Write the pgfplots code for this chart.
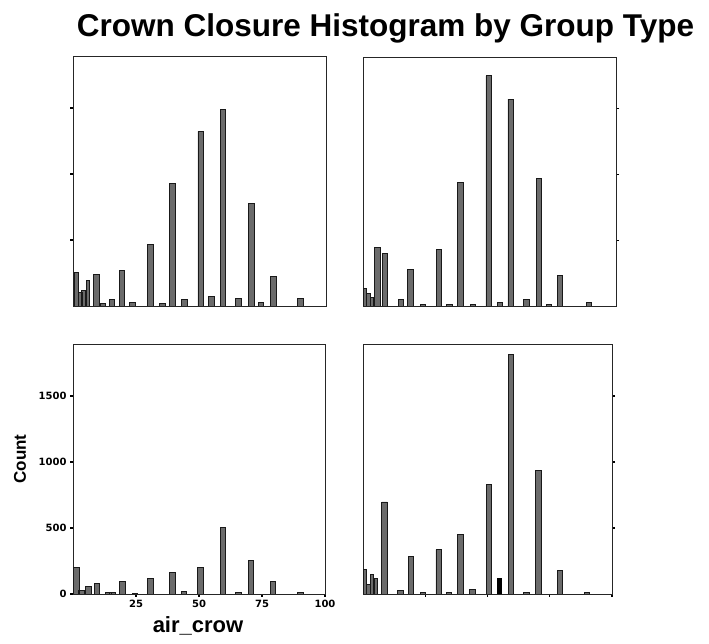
\documentclass[border=0pt]{standalone}
\usepackage{pgfplots}
\pgfplotsset{compat=1.18}
\usepackage{fontspec}
\setmainfont{Liberation Sans}
\newfontfamily\tickfont{DejaVu Sans}
\pgfplotsset{
  panel/.style={
    scale only axis, anchor=south west,
    xmin=0, xmax=100, ymin=0, ymax=1894,
    axis line style={line width=0.9pt, black!85},
    tick style={black, line width=1.4pt},
    major tick length=3pt, tick align=outside,
    /pgf/number format/assume math mode=true,
    /pgf/number format/1000 sep={},
    ticklabel style={font=\tickfont\bfseries\fontsize{10}{12}\selectfont},
    xtick=\empty,
  },
  narrowbar/.style={ybar, bar width=1.4, bar shift=0pt, draw=black!90, fill=black!58, line width=0.9pt},
  widebar/.style={ybar, bar width=2.2, bar shift=0pt, draw=black!90, fill=black!58, line width=0.9pt},
}
\begin{document}
\begin{tikzpicture}
\useasboundingbox (0,0) rectangle (709pt,644pt);
\node[font=\bfseries\fontsize{31.5}{36}\selectfont, anchor=base] at (385.5pt,607pt) {Crown Closure Histogram by Group Type};
\node[font=\bfseries\fontsize{17}{20}\selectfont, rotate=90] at (20pt,185pt) {Count};
\node[font=\bfseries\fontsize{22}{26}\selectfont] at (198pt,18pt) {air\_crow};

% AU
\begin{axis}[panel, at={(73pt,338pt)}, width=253pt, height=250pt,
  ytick={500,1000,1500}, yticklabels={}, ytick pos=left]
\addplot[narrowbar] coordinates {(1.45,255) (2.9,100) (4.1,118) (5.9,193)};
\addplot[widebar] coordinates {(9.2,238) (11.8,18) (15.4,50) (19.4,268) (23.6,30) (30.6,468) (35.3,18) (39.2,930) (44.1,48) (50.5,1322) (54.8,75) (59.3,1488) (65.5,60) (70.5,780) (74.3,30) (79.2,223) (90.0,60)};
\node[anchor=south west, inner sep=0pt, font=\fontsize{10}{12}\selectfont] at (rel axis cs:0,1) [yshift=2pt] {AU};
\end{axis}

% D
\begin{axis}[panel, at={(363pt,338pt)}, width=253pt, height=249pt,
  ytick={500,1000,1500}, yticklabels={}, ytick pos=right]
\addplot[narrowbar] coordinates {(0.8,130) (2.2,93) (3.6,68)};
\addplot[widebar] coordinates {(5.7,448) (8.7,403) (15.0,48) (18.8,280) (23.7,12) (30.0,430) (34.2,12) (38.6,943) (43.4,12) (49.7,1750) (54.1,30) (58.4,1573) (64.6,48) (69.5,973) (73.5,12) (77.9,230) (89.3,28)};
\node[anchor=south west, inner sep=0pt, font=\fontsize{10}{12}\selectfont] at (rel axis cs:0,1) [yshift=2pt] {D};
\end{axis}

% L
\begin{axis}[panel, at={(73pt,50pt)}, width=252pt, height=250pt,
  ytick={0,500,1000,1500}, ytick pos=left,
  xtick={25,50,75,100}, xtick pos=bottom]
\addplot[widebar] coordinates {(1.3,198) (3.3,30) (6.1,59) (9.5,79) (14.0,15) (15.6,15) (19.6,97) (24.6,5) (30.7,116) (39.4,166) (44.0,17) (50.6,198) (59.5,507) (65.6,15) (70.6,257) (79.3,92) (90.3,10)};
\node[anchor=south west, inner sep=0pt, font=\fontsize{10}{12}\selectfont] at (rel axis cs:0,1) [yshift=2pt] {L};
\end{axis}

% UV
\begin{axis}[panel, at={(363pt,50pt)}, width=249pt, height=250pt,
  ytick={500,1000,1500}, yticklabels={}, ytick pos=right,
  xtick={25,50,75,100}, xticklabels={}, xtick pos=bottom]
\addplot[narrowbar] coordinates {(0.8,184) (2.1,71) (3.6,149) (5.3,121)};
\addplot[widebar] coordinates {(8.7,697) (15.0,28) (19.2,285) (24.0,8) (30.4,336) (34.6,8) (39.2,452) (44.0,33) (50.5,833) (59.4,1818) (65.7,13) (70.5,937) (79.1,179) (89.9,13)};
\addplot[ybar, bar width=1.4, bar shift=0pt, fill=black, draw=black] coordinates {(54.7,121)};
\node[anchor=south west, inner sep=0pt, font=\fontsize{10}{12}\selectfont] at (rel axis cs:0,1) [yshift=2pt] {UV};
\end{axis}
\end{tikzpicture}
\end{document}
